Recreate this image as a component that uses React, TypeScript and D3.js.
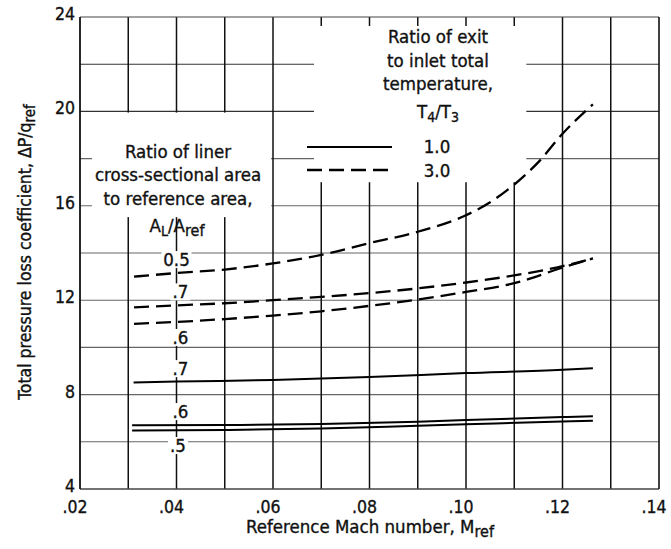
import React from "react";
import * as d3 from "d3";

// ---- data ----
const xTicks = [0.02, 0.04, 0.06, 0.08, 0.1, 0.12, 0.14];
const xTickLabels = [".02", ".04", ".06", ".08", ".10", ".12", ".14"];
const yTicks = [4, 8, 12, 16, 20, 24];
const xGrid = [0.03, 0.04, 0.05, 0.06, 0.07, 0.08, 0.09, 0.1, 0.11, 0.12, 0.13];
const yGrid = [6, 8, 10, 12, 14, 16, 18, 20, 22];

// T4/T3 = 3.0 (dashed)
const dashedA05: [number, number][] = [
  [0.0312, 13.0], [0.04, 13.15], [0.05, 13.3], [0.06, 13.56], [0.07, 13.92],
  [0.08, 14.42], [0.09, 14.9], [0.1, 15.6], [0.105, 16.15], [0.11, 16.9],
  [0.115, 17.85], [0.12, 19.05], [0.1263, 20.3],
];
const dashedA07: [number, number][] = [
  [0.0312, 11.7], [0.04, 11.78], [0.05, 11.87], [0.06, 12.0], [0.07, 12.14],
  [0.08, 12.3], [0.09, 12.5], [0.1, 12.75], [0.11, 13.05], [0.12, 13.44], [0.1263, 13.77],
];
const dashedA06: [number, number][] = [
  [0.0312, 11.0], [0.04, 11.08], [0.05, 11.2], [0.06, 11.35], [0.07, 11.53],
  [0.08, 11.76], [0.09, 12.03], [0.1, 12.35], [0.11, 12.72], [0.12, 13.38], [0.1263, 13.77],
];
// T4/T3 = 1.0 (solid)
const solidA07: [number, number][] = [
  [0.0311, 8.51], [0.04, 8.55], [0.06, 8.62], [0.08, 8.75], [0.1, 8.91], [0.12, 9.05], [0.1263, 9.12],
];
const solidA06: [number, number][] = [
  [0.0308, 6.7], [0.05, 6.71], [0.07, 6.75], [0.09, 6.85], [0.1, 6.92], [0.12, 7.05], [0.1263, 7.08],
];
const solidA05: [number, number][] = [
  [0.0308, 6.48], [0.05, 6.5], [0.07, 6.56], [0.09, 6.68], [0.1, 6.74], [0.12, 6.86], [0.1263, 6.89],
];

const curveLabels = [
  { text: "0.5", x: 0.04, y: 13.7 },
  { text: ".7", x: 0.0408, y: 12.33 },
  { text: ".6", x: 0.0408, y: 10.4 },
  { text: ".7", x: 0.0408, y: 9.08 },
  { text: ".6", x: 0.0408, y: 7.26 },
  { text: ".5", x: 0.0403, y: 5.82 },
];

const W = 671;
const H = 549;
const M = { left: 80, right: 12, top: 17, bottom: 60 };
const FONT = "'Liberation Sans Narrow', 'DejaVu Sans Condensed', 'Arial Narrow', 'Liberation Sans', sans-serif";

export default function App() {
  const x = d3.scaleLinear().domain([0.02, 0.14]).range([M.left, W - M.right]);
  const y = d3.scaleLinear().domain([4, 24]).range([H - M.bottom, M.top]);
  const line = d3
    .line<[number, number]>()
    .x((d) => x(d[0]))
    .y((d) => y(d[1]))
    .curve(d3.curveMonotoneX);

  const x0 = x(0.02), x1 = x(0.14), y0 = y(4), y1 = y(24);

  const box1 = { x: x(0.0685), y: y(23.62), w: x(0.1125) - x(0.0685), h: y(17.0) - y(23.62) };
  const box2 = { x: x(0.0225), y: y(19.95), w: x(0.0596) - x(0.0225), h: y(15.52) - y(19.95) };

  const txt = { fontFamily: FONT, fontSize: 18.5, fill: "#111", stroke: "#111", strokeWidth: 0.35 } as const;
  const tick = { ...txt, fontSize: 17.5 } as const;

  return (
    <svg width={W} height={H} style={{ position: "absolute", left: 0, top: 0, background: "#fff" }}>
      <rect width={W} height={H} fill="#fff" />
      {/* grid */}
      {yGrid.map((v) => (
        <line key={"h" + v} x1={x0} x2={x1} y1={y(v)} y2={y(v)} stroke={v >= 20 ? "#333" : "#666"} strokeWidth={1.1} />
      ))}
      {xGrid.map((v) => (
        <line key={"v" + v} x1={x(v)} x2={x(v)} y1={y1} y2={y0} stroke="#111" strokeWidth={1.5} />
      ))}
      {/* frame */}
      <line x1={x0} x2={x1} y1={y1} y2={y1} stroke="#444" strokeWidth={1.2} />
      <line x1={x0} x2={x1} y1={y0} y2={y0} stroke="#444" strokeWidth={1.4} />
      <line x1={x0} x2={x0} y1={y1} y2={y0} stroke="#111" strokeWidth={1.8} />
      <line x1={x1} x2={x1} y1={y1} y2={y0} stroke="#111" strokeWidth={1.6} />

      {/* label backgrounds */}
      <rect x={box1.x} y={box1.y} width={box1.w} height={box1.h} fill="#fff" />
      <rect x={box2.x} y={box2.y} width={box2.w} height={box2.h} fill="#fff" />
      {curveLabels.map((l, i) => (
        <rect
          key={"lb" + i}
          x={x(l.x) - (l.text.length > 2 ? 15 : 10)}
          y={y(l.y) - 9}
          width={l.text.length > 2 ? 30 : 20}
          height={17}
          fill="#fff"
        />
      ))}

      {/* curves */}
      {[dashedA05, dashedA07, dashedA06].map((d, i) => (
        <path key={"d" + i} d={line(d) || ""} fill="none" stroke="#000" strokeWidth={2.3} strokeDasharray="15 7" />
      ))}
      {[solidA07, solidA06, solidA05].map((d, i) => (
        <path key={"s" + i} d={line(d) || ""} fill="none" stroke="#000" strokeWidth={2} />
      ))}

      {/* curve labels */}
      {curveLabels.map((l, i) => (
        <text key={"lt" + i} x={x(l.x)} y={y(l.y) + 6} textAnchor="middle" {...txt}>
          {l.text}
        </text>
      ))}

      {/* legend block (top right) */}
      <g textAnchor="middle" {...txt}>
        <text x={438} y={43}>Ratio of exit</text>
        <text x={438} y={67}>to inlet total</text>
        <text x={438} y={90}>temperature,</text>
        <text x={438} y={118}>
          T<tspan fontSize={14} dy={4}>4</tspan>
          <tspan dy={-4}>/T</tspan>
          <tspan fontSize={14} dy={4}>3</tspan>
        </text>
        <text x={437} y={153}>1.0</text>
        <text x={437} y={177}>3.0</text>
      </g>
      <line x1={307} x2={392} y1={147} y2={147} stroke="#000" strokeWidth={2} />
      <line x1={307} x2={392} y1={170} y2={170} stroke="#000" strokeWidth={2.3} strokeDasharray="15 7" />

      {/* liner area block */}
      <g textAnchor="middle" {...txt}>
        <text x={178} y={158}>Ratio of liner</text>
        <text x={178} y={181}>cross-sectional area</text>
        <text x={178} y={205}>to reference area,</text>
        <text x={177} y={232}>
          A<tspan fontSize={14} dy={4}>L</tspan>
          <tspan dy={-4}>/A</tspan>
          <tspan fontSize={16} dy={4}>ref</tspan>
        </text>
      </g>

      {/* y ticks */}
      {yTicks.map((v) => (
        <text key={"yt" + v} x={x0 - 5} y={y(v) + 3} textAnchor="end" {...tick}>
          {v}
        </text>
      ))}
      {/* x ticks */}
      {xTicks.map((v, i) => (
        <text key={"xt" + v} x={x(v) - 5} y={y0 + 24} textAnchor="middle" {...tick}>
          {xTickLabels[i]}
        </text>
      ))}

      {/* axis titles */}
      <text x={370} y={533} textAnchor="middle" {...txt}>
        Reference Mach number, M<tspan fontSize={16} dy={4}>ref</tspan>
      </text>
      <text transform={`translate(31,252) rotate(-90)`} textAnchor="middle" {...txt} fontSize={17.5}>
        Total pressure loss coefficient, ΔP/q<tspan fontSize={15} dy={4}>ref</tspan>
      </text>
    </svg>
  );
}
